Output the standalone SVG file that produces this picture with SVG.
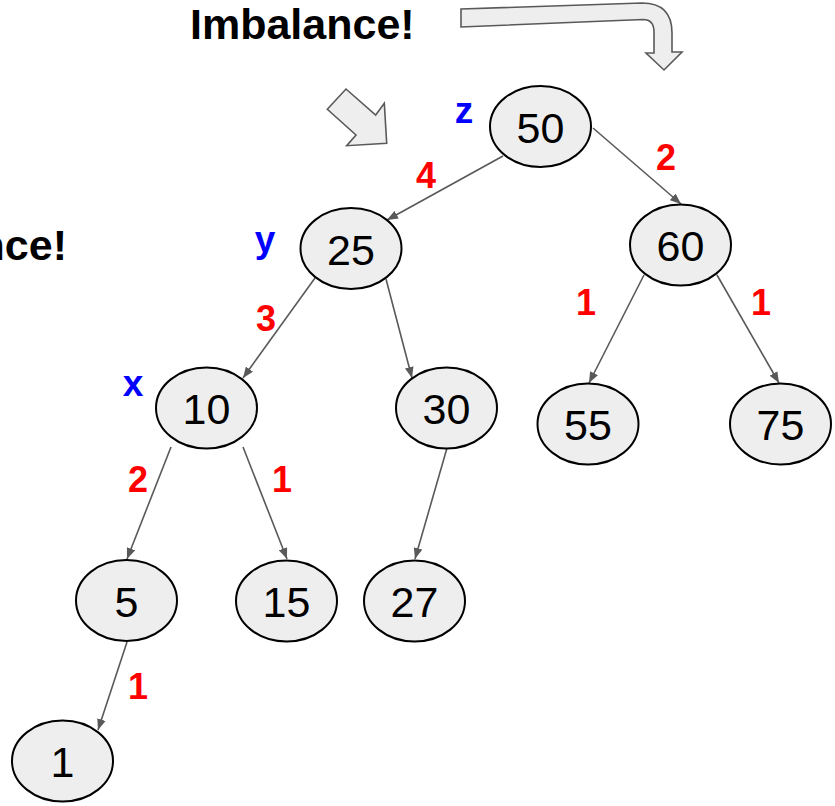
<svg xmlns="http://www.w3.org/2000/svg" width="835" height="806" viewBox="0 0 835 806">
<style>
.node ellipse{fill:#eeeeee;stroke:#000;stroke-width:2}
.node text{font-family:"Liberation Sans",Arial,sans-serif;font-size:43px;fill:#000;text-anchor:middle}
.edge{stroke:#595959;stroke-width:1.6;fill:none;marker-end:url(#ah)}
.big{font-family:"Liberation Sans",Arial,sans-serif;font-size:43px;font-weight:bold;fill:#000}
.lbl{font-family:"Liberation Sans",Arial,sans-serif;font-size:37px;font-weight:bold;fill:#0000ff;text-anchor:middle}
.num{font-family:"Liberation Sans",Arial,sans-serif;font-size:36px;font-weight:bold;fill:#ff0000;text-anchor:middle}
.blk{fill:#eeeeee;stroke:#595959;stroke-width:1.6;stroke-linejoin:miter}
</style>
<defs>
<marker id="ah" viewBox="0 0 10 8" refX="10" refY="4" markerWidth="11" markerHeight="9" markerUnits="userSpaceOnUse" orient="auto">
<path d="M0,0 L10,4 L0,8 Z" fill="#595959"/>
</marker>
</defs>
<g id="annotations">
<text class="big" x="190" y="39">Imbalance!</text>
<text class="big" x="67" y="260" text-anchor="end">Imbalance!</text>
<path class="blk" d="M461,9 L642,3 Q672,3 672,33 L672,52 L682,52 L664,70 L646,53 L654,53 L654,32 Q654,19.5 643,19.5 L461,27 Z"/>
<path class="blk" d="M327.3,109.3 L346,89 L375.7,115 L384.3,103.3 L386.7,143.3 L346.7,145.7 L356,135 Z"/>
<text class="lbl" x="464" y="123">z</text>
<text class="lbl" x="265" y="252">y</text>
<text class="lbl" x="133" y="396">x</text>
<text class="num" x="426" y="188">4</text>
<text class="num" x="666" y="170">2</text>
<text class="num" x="266" y="331">3</text>
<text class="num" x="586" y="315">1</text>
<text class="num" x="761" y="315">1</text>
<text class="num" x="138" y="492">2</text>
<text class="num" x="282" y="492">1</text>
<text class="num" x="138" y="699">1</text>
</g>
<g id="connectors">
<path class="edge" d="M503,156 L387,220"/>
<path class="edge" d="M593,128 L681,204"/>
<path class="edge" d="M315,278 L243,378"/>
<path class="edge" d="M386,279 L412,378"/>
<path class="edge" d="M171,447 L127,559"/>
<path class="edge" d="M243,447 L287,559"/>
<path class="edge" d="M447,448 L415,559"/>
<path class="edge" d="M127,642 L98,730"/>
<path class="edge" d="M644,275 L589,383"/>
<path class="edge" d="M717,275 L779,383"/>
</g>
<g id="n50" class="node"><ellipse cx="540.5" cy="126.5" rx="50.5" ry="40.5"/><text x="540.5" y="142.5">50</text></g>
<g id="n25" class="node"><ellipse cx="351" cy="248.5" rx="50.5" ry="40.5"/><text x="351" y="264.5">25</text></g>
<g id="n60" class="node"><ellipse cx="680.5" cy="245" rx="50.5" ry="40.5"/><text x="680.5" y="261">60</text></g>
<g id="n10" class="node"><ellipse cx="206.5" cy="408" rx="50.5" ry="40.5"/><text x="206.5" y="424">10</text></g>
<g id="n30" class="node"><ellipse cx="446.5" cy="408" rx="50.5" ry="40.5"/><text x="446.5" y="424">30</text></g>
<g id="n55" class="node"><ellipse cx="588" cy="424" rx="50.5" ry="40.5"/><text x="588" y="440">55</text></g>
<g id="n75" class="node"><ellipse cx="780.5" cy="424" rx="50.5" ry="40.5"/><text x="780.5" y="440">75</text></g>
<g id="n5" class="node"><ellipse cx="126.5" cy="600.5" rx="50.5" ry="40.5"/><text x="126.5" y="616.5">5</text></g>
<g id="n15" class="node"><ellipse cx="286.5" cy="601" rx="50.5" ry="40.5"/><text x="286.5" y="617">15</text></g>
<g id="n27" class="node"><ellipse cx="414.5" cy="601" rx="50.5" ry="40.5"/><text x="414.5" y="617">27</text></g>
<g id="n1" class="node"><ellipse cx="62.5" cy="761" rx="50.5" ry="40.5"/><text x="62.5" y="777">1</text></g>
</svg>
